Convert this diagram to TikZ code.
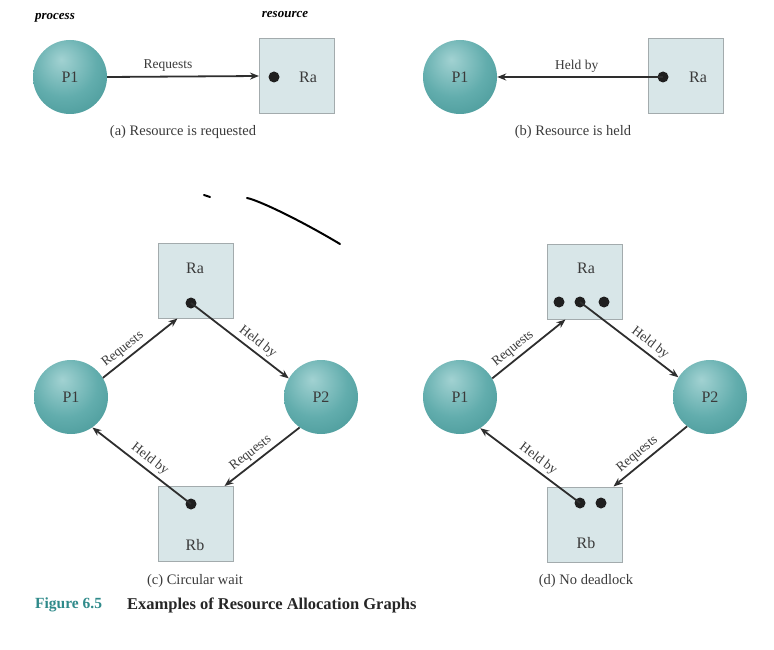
\documentclass[tikz,border=0pt]{standalone}
\usepackage{fontspec}
\setmainfont{Liberation Serif}
\usetikzlibrary{arrows.meta,calc}
\definecolor{boxfill}{HTML}{D8E6E8}
\definecolor{boxline}{HTML}{A3ABAD}
\definecolor{arrowc}{HTML}{2E2E2E}
\definecolor{txt}{HTML}{3A3A3A}
\definecolor{tealA}{HTML}{A2D2D2}
\definecolor{tealB}{HTML}{62ADAD}
\definecolor{tealC}{HTML}{378B8B}
\definecolor{figteal}{HTML}{2F8A8A}
\pgfdeclareradialshading{tealball}{\pgfpoint{-6bp}{12bp}}{color(0bp)=(tealA); color(22bp)=(tealB); color(50bp)=(tealC); color(75bp)=(tealC)}
\tikzset{
  proc/.style={circle, minimum size=74pt, inner sep=0pt, shading=tealball, font=\fontsize{16}{16}\selectfont, text=txt},
  res/.style={rectangle, minimum width=75pt, minimum height=75pt, inner sep=0pt, fill=boxfill, draw=boxline, line width=1pt},
  tok/.style={circle, fill=black!88, minimum size=11pt, inner sep=0pt},
  rtext/.style={font=\fontsize{16}{16}\selectfont, text=txt, inner sep=0pt},
  arr/.style={draw=arrowc, line width=1.8pt, -{Stealth[length=9pt,width=7pt]}},
  lbl/.style={font=\fontsize{13.5}{14}\selectfont, text=txt, inner sep=3pt},
  subcap/.style={font=\fontsize{14.5}{15}\selectfont, text=txt},
  hand/.style={font=\fontsize{13}{13}\bfseries\itshape\selectfont, text=black},
  stroke/.style={line width=2pt, line cap=round, black}
}
\begin{document}
\begin{tikzpicture}[x=1pt,y=-1pt]
\useasboundingbox (0,0) rectangle (774,650);

% handwritten notes
\node[hand] (hp) at (55,18) {process};
\node[hand] (hr) at (285,15) {resource};
\draw[stroke] (204,195) -- (210,197);
\draw[stroke] (247,198) .. controls (258,200) and (300,220) .. (340,244);

% (a)
\node[proc] (aP1) at (70,77) {P1};
\node[res] (aRa) at (297,76) {};
\node[tok] (aDot) at (274,77) {};
\node[rtext] (aRaT) at (308,77) {Ra};
\draw[arr] (aP1.east) -- (aRa.west) node[lbl, pos=0.4, above=1pt] {Requests};
\node[subcap] (aCap) at (183,132) {(a) Resource is requested};

% (b)
\node[proc] (bP1) at (460,77) {P1};
\node[res] (bRa) at (686,76) {};
\node[tok] (bDot) at (663,77) {};
\node[rtext] (bRaT) at (698,77) {Ra};
\draw[arr] (bDot.center) -- (bP1.east) node[lbl, pos=0.52, above=1pt] {Held by};
\node[subcap] (bCap) at (573,132) {(b) Resource is held};

% (c)
\node[res] (cRa) at (195.5,280.5) {};
\node[rtext] (cRaT) at (195,268) {Ra};
\node[tok] (cRaDot) at (191,303) {};
\node[proc] (cP1) at (71,397) {P1};
\node[proc] (cP2) at (321,397) {P2};
\node[res] (cRb) at (195.5,524) {};
\node[tok] (cRbDot) at (191,504) {};
\node[rtext] (cRbT) at (195,545) {Rb};
\draw[arr] (cP1.31) -- ([xshift=20pt]cRa.south west) node[lbl, sloped, above, pos=0.35] {Requests};
\draw[arr] (cRaDot.center) -- (cP2.150) node[lbl, sloped, above, pos=0.62] {Held by};
\draw[arr] (cRbDot.center) -- (cP1.-55) node[lbl, sloped, above, pos=0.48] {Held by};
\draw[arr] (cP2.235) -- ([xshift=-9pt]cRb.north east) node[lbl, sloped, above, pos=0.57] {Requests};
\node[subcap] (cCap) at (195,581) {(c) Circular wait};

% (d)
\node[res] (dRa) at (584.5,281.5) {};
\node[rtext] (dRaT) at (586,268) {Ra};
\node[tok] (dRaDot1) at (559,302) {};
\node[tok] (dRaDot2) at (580,302) {};
\node[tok] (dRaDot3) at (604,302) {};
\node[proc] (dP1) at (460,397) {P1};
\node[proc] (dP2) at (710,397) {P2};
\node[res] (dRb) at (584.5,524.5) {};
\node[tok] (dRbDot1) at (580,503) {};
\node[tok] (dRbDot2) at (601,503) {};
\node[rtext] (dRbT) at (586,543) {Rb};
\draw[arr] (dP1.30) -- ([xshift=19pt]dRa.south west) node[lbl, sloped, above, pos=0.37] {Requests};
\draw[arr] (dRaDot2.center) -- (dP2.148) node[lbl, sloped, above, pos=0.65] {Held by};
\draw[arr] (dRbDot1.center) -- (dP1.-57) node[lbl, sloped, above, pos=0.48] {Held by};
\draw[arr] (dP2.232) -- ([xshift=-9pt]dRb.north east) node[lbl, sloped, above, pos=0.59] {Requests};
\node[subcap] (dCap) at (586,581) {(d) No deadlock};

% figure caption
\node[anchor=west, inner sep=0pt, font=\fontsize{15.5}{16}\bfseries\selectfont, text=figteal] (fig) at (35,605) {Figure 6.5};
\node[anchor=west, inner sep=0pt, font=\fontsize{16.5}{17}\bfseries\selectfont, text=black!85] (figt) at (127,605) {Examples of Resource Allocation Graphs};
\end{tikzpicture}
\end{document}
